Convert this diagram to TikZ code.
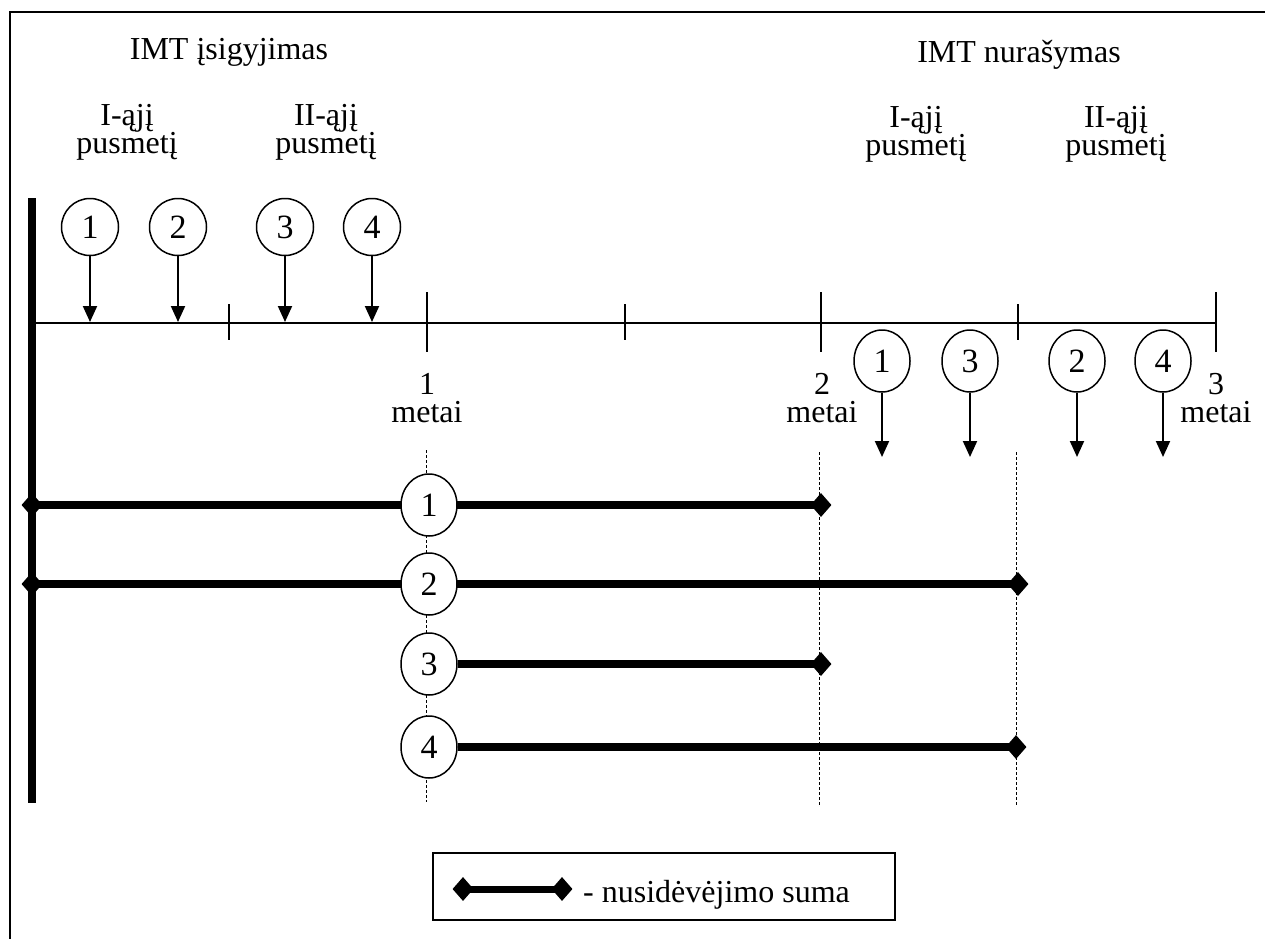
\documentclass[tikz,border=0pt]{standalone}
\usepackage{fontspec}
\setmainfont{Liberation Serif}
\usetikzlibrary{arrows.meta,shapes.geometric}
\begin{document}
\begin{tikzpicture}[x=1pt,y=-1pt,
  every node/.style={font=\fontsize{32}{28}\selectfont},
  lbl/.style={anchor=base,inner sep=0pt},
  two/.style={anchor=base,inner sep=0pt,align=center},
  numc/.style={draw,circle,line width=1.5pt,fill=white,minimum size=57pt,inner sep=0pt,font=\fontsize{34}{34}\selectfont},
  nume/.style={draw,ellipse,line width=1.5pt,fill=white,minimum width=56pt,minimum height=62pt,inner sep=0pt,font=\fontsize{34}{34}\selectfont},
  dia/.style={diamond,fill=black,minimum width=21pt,minimum height=24pt,inner sep=0pt},
  arr/.style={line width=2pt,-{Triangle[width=14pt,length=16pt]}},
  thin/.style={line width=2pt},
  bar/.style={line width=8pt},
  guide/.style={line width=1pt,dash pattern=on 3pt off 2pt}]
\useasboundingbox (0,0) rectangle (1265,939);

% frame (top and left edges)
\coordinate (fTL) at (10,12);
\coordinate (fTR) at (1265,12);
\coordinate (fBL) at (10,939);
\draw[thin] (fTR) -- (fTL) -- (fBL);

% headings (two-line nodes sit on the baseline of their last line)
\node[lbl] (hL) at (229,60) {IMT įsigyjimas};
\node[lbl] (hR) at (1019,63) {IMT nurašymas};
\node[two] (p1) at (127,153) {I-ąjį\\pusmetį};
\node[two] (p2) at (326,153) {II-ąjį\\pusmetį};
\node[two] (p3) at (916,155) {I-ąjį\\pusmetį};
\node[two] (p4) at (1116,155) {II-ąjį\\pusmetį};

% dashed year guides
\coordinate (g1t) at (426,450); \coordinate (g1b) at (426,802);
\coordinate (g2t) at (819,452); \coordinate (g2b) at (819,805);
\coordinate (g3t) at (1016,452); \coordinate (g3b) at (1016,805);
\draw[guide] (g1t) -- (g1b);
\draw[guide] (g2t) -- (g2b);
\draw[guide] (g3t) -- (g3b);

% main vertical bar
\coordinate (vT) at (32,198);
\coordinate (vB) at (32,803);
\draw[bar] (vT) -- (vB);

% time axis with ticks
\coordinate (axL) at (32,323);
\coordinate (axR) at (1216,323);
\draw[thin] (axL) -- (axR);
\foreach \x/\n in {427/k1,821/k2,1216/k3}{
  \coordinate (\n t) at (\x,292); \coordinate (\n b) at (\x,352);
  \draw[thin] (\n t) -- (\n b);}
\foreach \x/\n in {229/h1,625/h2,1018/h3}{
  \coordinate (\n t) at (\x,304); \coordinate (\n b) at (\x,340);
  \draw[thin] (\n t) -- (\n b);}

% year labels
\node[two] (y1) at (427,422) {1\\metai};
\node[two] (y2) at (822,422) {2\\metai};
\node[two] (y3) at (1216,422) {3\\metai};

% acquisition moments
\foreach \x/\k in {90/1,178/2,285/3,372/4}{
  \node[numc] (t\k) at (\x,227) {\k};
  \coordinate (ta\k) at (\x,322);
  \draw[arr] (t\k.south) -- (ta\k);}

% write-off moments
\foreach \x/\k in {882/1,970/3,1077/2,1163/4}{
  \node[nume] (w\k) at (\x,361) {\k};
  \coordinate (wa\k) at (\x,457);
  \draw[arr] (w\k.south) -- (wa\k);}

% depreciation periods
\node[dia] (r1s) at (32,505) {};
\node[dia] (r1e) at (821,505) {};
\node[dia] (r2s) at (32,584) {};
\node[dia] (r2e) at (1018,584) {};
\node[dia] (r3e) at (821,664) {};
\node[dia] (r4e) at (1016,747) {};
\draw[bar] (r1s.center) -- (r1e.center);
\draw[bar] (r2s.center) -- (r2e.center);
\node[nume] (m1) at (429,505) {1};
\node[nume] (m2) at (429,584) {2};
\node[nume] (m3) at (429,664) {3};
\node[nume] (m4) at (429,747) {4};
\draw[bar] (m3.east) -- (r3e.center);
\draw[bar] (m4.east) -- (r4e.center);

% legend
\node[draw,line width=2pt,minimum width=462pt,minimum height=67pt,inner sep=0pt] (leg) at (664,886.5) {};
\node[dia] (ld1) at (463,889) {};
\node[dia] (ld2) at (562,889) {};
\draw[line width=7pt] (ld1.center) -- (ld2.center);
\node[anchor=base west,inner sep=0pt] (ltx) at (583,902) {- nusidėvėjimo suma};
\end{tikzpicture}
\end{document}
